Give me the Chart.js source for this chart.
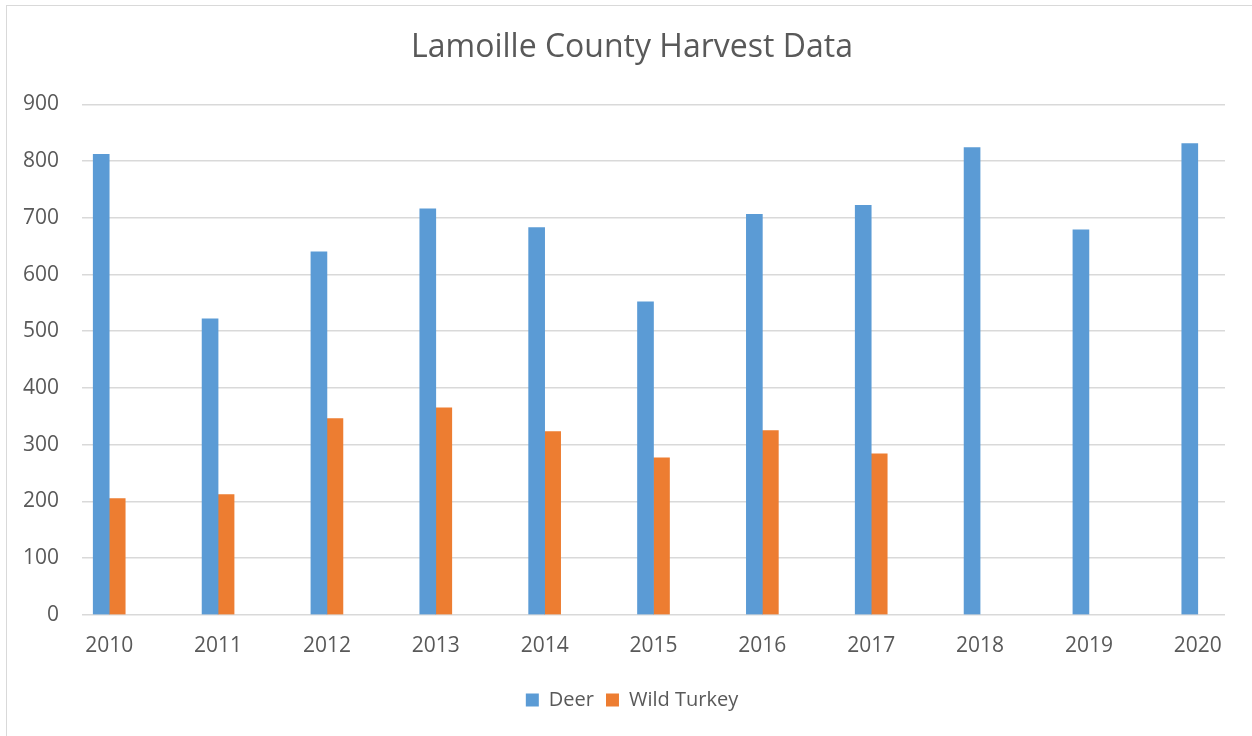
<!DOCTYPE html>
<html>
<head>
<meta charset="utf-8">
<script src="https://cdn.jsdelivr.net/npm/chart.js@4/dist/chart.umd.min.js"></script>
<style>
  html, body { margin: 0; padding: 0; background: #ffffff; overflow: hidden; }
  #frame {
    position: absolute; left: 6px; top: 5px;
    width: 1270px; height: 760px;
    border: 1.5px solid #d9d9d9; box-sizing: border-box;
  }
  #wrap { position: absolute; left: 0; top: 0; width: 1252px; height: 736px; }
</style>
</head>
<body>
<div id="frame"></div>
<div id="wrap"><canvas id="chart" width="1252" height="736"></canvas></div>
<script>
// Harvest counts per season
const years = [2010, 2011, 2012, 2013, 2014, 2015, 2016, 2017, 2018, 2019, 2020];
const deer = [812, 522, 640, 716, 683, 552, 706, 722, 824, 679, 831];
const wildTurkey = [205, 212, 346, 365, 323, 277, 325, 284, null, null, null];
const yTicks = [0, 100, 200, 300, 400, 500, 600, 700, 800, 900];

const textColor = '#595959';
const gridColor = '#d9d9d9';
const fontFamily = '"Open Sans", "Liberation Sans", sans-serif';

const toPoints = (vals) => years.map((yr, i) => ({ x: yr, y: vals[i] }));

// Let the value-axis labels use the space to the left of the layout padding
const widenValueLabels = {
  id: 'widenValueLabels',
  afterLayout(chart) { chart.scales.y.left = 0; }
};

new Chart(document.getElementById('chart'), {
  type: 'bar',
  data: {
    datasets: [
      { label: 'Deer', data: toPoints(deer), backgroundColor: '#5b9bd5', barThickness: 16 },
      { label: 'Wild Turkey', data: toPoints(wildTurkey), backgroundColor: '#ed7d31', barThickness: 16 }
    ]
  },
  plugins: [widenValueLabels],
  options: {
    responsive: false,
    devicePixelRatio: 1,
    animation: false,
    layout: { padding: { left: 39, right: 27, top: 0, bottom: 16 } },
    plugins: {
      title: {
        display: true,
        text: 'Lamoille County Harvest Data',
        color: textColor,
        font: { family: fontFamily, size: 32, weight: 'normal' },
        padding: { top: 29, bottom: 37 }
      },
      legend: {
        position: 'bottom',
        labels: {
          color: textColor,
          font: { family: fontFamily, size: 20 },
          boxWidth: 13,
          boxHeight: 13,
          padding: 12
        }
      },
      tooltip: { enabled: false }
    },
    scales: {
      x: {
        type: 'linear',
        offset: false,
        min: years[0] - 0.25,
        max: years[years.length - 1] + 0.25,
        grid: { display: false, drawTicks: false },
        border: { display: false },
        afterBuildTicks: (scale) => { scale.ticks = years.map(v => ({ value: v })); },
        ticks: {
          color: textColor,
          font: { family: fontFamily, size: 21 },
          padding: 19,
          autoSkip: false,
          maxRotation: 0,
          callback: (v) => String(v)
        }
      },
      y: {
        min: 0,
        max: 900,
        afterBuildTicks: (scale) => { scale.ticks = yTicks.map(v => ({ value: v })); },
        afterFit: (scale) => { scale.width = 43; },
        grid: { color: gridColor, lineWidth: 1.5, drawTicks: false },
        border: { display: false },
        ticks: {
          color: textColor,
          font: { family: fontFamily, size: 21 },
          padding: 23,
          callback: (v) => String(v)
        }
      }
    }
  }
});
</script>
</body>
</html>
